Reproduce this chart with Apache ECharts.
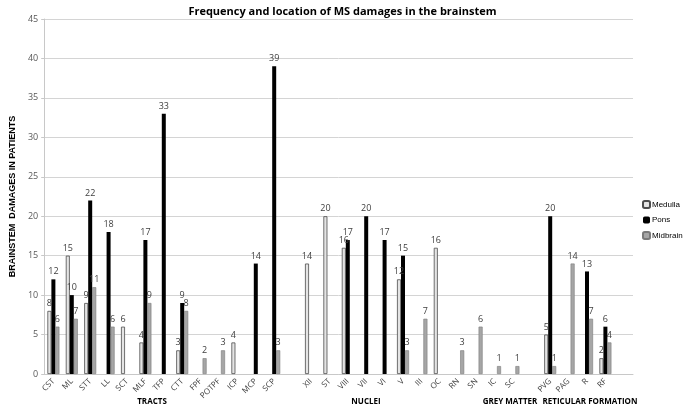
<!DOCTYPE html>
<html>
<head>
<meta charset="utf-8">
<script src="https://cdn.jsdelivr.net/npm/echarts@6/dist/echarts.min.js"></script>
<style>
html, body { margin: 0; padding: 0; background: #fff; }
#chart { width: 685px; height: 413px; }
</style>
</head>
<body>
<div id="chart"></div>
<script>
// categories (empty names are the gaps between groups)
var categories = ['CST', 'ML', 'STT', 'LL', 'SCT', 'MLF', 'TFP', 'CTT', 'FPF', 'POTPF', 'ICP', 'MCP', 'SCP', '',
    'XII', 'ST', 'VIII', 'VII', 'VI', 'V', 'III', 'OC', 'RN', 'SN', 'IC', 'SC', '',
    'PVG', 'PAG', 'R', 'RF', ''];

var medulla = [8, 15, 9, null, 6, 4, null, 3, null, null, 4, null, null, null,
    14, 20, 16, null, null, 12, null, 16, null, null, null, null, null,
    5, null, null, 2, null];
var pons = [12, 10, 22, 18, null, 17, 33, 9, null, null, null, 14, 39, null,
    null, null, 17, 20, 17, 15, null, null, null, null, null, null, null,
    20, null, 13, 6, null];
var midbrain = [6, 7, 11, 6, null, 9, null, 8, 2, 3, null, null, 3, null,
    null, null, null, null, null, 3, 7, null, 3, 6, 1, 1, null,
    1, 14, 7, 4, null];

var groupNames = ['TRACTS', 'NUCLEI', 'GREY MATTER', 'RETICULAR FORMATION'];
var groupX = [152, 366, 510, 590];

var chartMain = document.getElementById('chart');
var mychart = echarts.init(chartMain);

var fontFam = '"Open Sans", "Noto Sans", sans-serif';
var narrowFam = '"Liberation Sans", Arial, sans-serif';

//数据标签
var barLabel = {
    show: true,
    position: 'top',
    distance: 3,
    fontSize: 9,
    color: '#404040',
    fontFamily: fontFam
};

var option = {
    animation: false,
    backgroundColor: '#fff',
    title: {
        text: 'Frequency and location of MS damages in the brainstem',
        left: 'center',
        top: 1,
        textStyle: {
            fontSize: 11,
            fontWeight: 'bold',
            color: '#000',
            fontFamily: fontFam
        }
    },
    grid: {
        left: 28,
        right: 52,
        top: 19,
        bottom: 39
    },
    legend: {
        orient: 'vertical',
        left: 637,
        top: 195,
        itemWidth: 7,
        itemHeight: 7,
        itemGap: 7,
        textStyle: { fontSize: 8, color: '#000', fontFamily: narrowFam, padding: [0, 0, 0, -3] },
        data: ['Medulla', 'Pons', 'Midbrain']
    },
    xAxis: {
        type: 'category',
        data: categories,
        axisLine: { lineStyle: { color: '#c8c8c8' } },
        axisTick: { show: false },
        axisLabel: {
            interval: 0,
            rotate: 45,
            fontSize: 8,
            color: '#404040',
            fontFamily: fontFam,
            margin: 6
        }
    },
    yAxis: {
        type: 'value',
        min: 0,
        max: 45,
        interval: 5,
        name: 'BRAINSTEM  DAMAGES IN PATIENTS',
        nameLocation: 'middle',
        nameGap: 18,
        nameTextStyle: { fontSize: 9, fontWeight: 'bold', color: '#000', fontFamily: narrowFam },
        axisLine: { show: true, lineStyle: { color: '#c8c8c8' } },
        axisTick: { show: true, length: 3, lineStyle: { color: '#c8c8c8' } },
        axisLabel: { fontSize: 9, color: '#595959', fontFamily: fontFam, margin: 6 },
        splitLine: { lineStyle: { color: '#d4d4d4', width: 1 } }
    },
    series: [
        {
            name: 'Medulla',
            type: 'bar',
            data: medulla,
            barWidth: 4,
            barGap: '0%',
            itemStyle: { color: '#e4e4e4', borderColor: '#4d4d4d', borderWidth: 0.8 },
            label: barLabel
        },
        {
            name: 'Pons',
            type: 'bar',
            data: pons,
            barWidth: 4,
            barGap: '0%',
            itemStyle: { color: '#000' },
            label: barLabel
        },
        {
            name: 'Midbrain',
            type: 'bar',
            data: midbrain,
            barWidth: 4,
            barGap: '0%',
            itemStyle: { color: '#a6a6a6', borderColor: '#7a7a7a', borderWidth: 0.6 },
            label: barLabel
        }
    ],
    graphic: groupNames.map(function (g, i) {
        return {
            type: 'text',
            x: groupX[i],
            y: 398,
            style: {
                text: g,
                fontSize: 8,
                fontWeight: 'bold',
                fill: '#000',
                fontFamily: fontFam,
                textAlign: 'center'
            }
        };
    })
};

mychart.setOption(option);
</script>
</body>
</html>
